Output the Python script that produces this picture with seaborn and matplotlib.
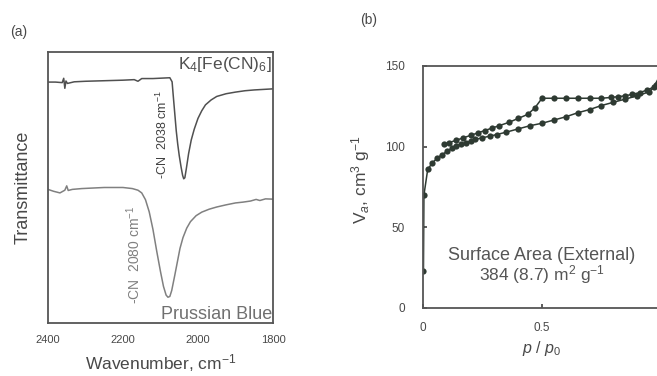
import matplotlib
matplotlib.use("Agg")
import matplotlib.pyplot as plt
import seaborn as sns
import pandas as pd

# --- data ---
# (a) IR spectra, wavenumber (cm-1) vs transmittance (arb.)
k4_wn = [2400, 2380, 2362, 2358, 2355, 2352, 2348, 2330, 2300, 2250, 2200, 2170, 2160, 2150,
         2120, 2090, 2075, 2069, 2066, 2062, 2058, 2054, 2050, 2045, 2041, 2038, 2035, 2031,
         2025, 2018, 2010, 2000, 1990, 1980, 1965, 1950, 1925, 1900, 1875, 1850, 1825, 1800]
k4_T = [88.9, 88.9, 88.7, 90.3, 86.6, 89.3, 88.4, 89.0, 89.2, 89.4, 89.6, 89.8, 89.2, 90.2,
        90.2, 90.4, 90.5, 89.0, 84.0, 77.5, 71.0, 66.0, 61.8, 57.5, 54.5, 53.2, 53.6, 57.0,
        62.5, 67.5, 71.5, 75.5, 78.3, 80.5, 82.3, 83.6, 84.6, 85.2, 85.7, 86.0, 86.2, 86.4]

pb_wn = [2400, 2385, 2368, 2355, 2350, 2346, 2335, 2310, 2280, 2250, 2200, 2175, 2160, 2150,
         2140, 2130, 2120, 2110, 2100, 2092, 2085, 2080, 2075, 2070, 2062, 2055, 2048, 2040,
         2030, 2020, 2005, 1990, 1970, 1950, 1925, 1900, 1880, 1860, 1845, 1835, 1820, 1800]
pb_T = [49.3, 48.6, 48.0, 49.0, 50.6, 48.9, 49.3, 49.6, 49.8, 50.0, 50.0, 49.6, 49.0, 48.0,
        45.5, 41.0, 34.5, 26.5, 19.0, 13.5, 10.3, 9.5, 9.8, 12.0, 17.5, 22.5, 27.5, 31.5,
        35.0, 37.4, 39.6, 40.9, 42.0, 42.8, 43.6, 44.3, 44.6, 45.0, 45.6, 45.2, 45.8, 45.7]

# (b) N2 isotherm, relative pressure vs adsorbed volume
ads_p = [0.002, 0.004, 0.02, 0.04, 0.06, 0.08, 0.10, 0.12, 0.14, 0.16, 0.18, 0.20, 0.22,
         0.25, 0.28, 0.31, 0.35, 0.40, 0.45, 0.50, 0.55, 0.60, 0.65, 0.70, 0.75, 0.80,
         0.85, 0.90, 0.95, 0.98, 0.995]
ads_v = [23, 70, 86, 90, 93, 95, 97, 99, 100.5, 101.5, 102.5, 103.5, 104.5,
         105.5, 106.5, 107.5, 109, 111, 113, 114.5, 116.5, 118.5, 121, 123, 125.5, 127.5,
         129.5, 131.5, 134, 138, 144]
des_p = [0.995, 0.97, 0.94, 0.91, 0.88, 0.85, 0.82, 0.79, 0.75, 0.70, 0.65, 0.60, 0.55,
         0.50, 0.47, 0.44, 0.40, 0.36, 0.32, 0.29, 0.26, 0.23, 0.20, 0.17, 0.14, 0.11, 0.09]
des_v = [144, 137, 135, 133.5, 132.5, 131.5, 131, 130.5, 130, 130, 130, 130, 130,
         130, 124, 120, 117.5, 115, 113, 111.5, 110, 108.5, 107, 105.5, 104, 102.5, 101.5]

sns.set_theme(style="white")
plt.rcParams['font.family'] = ['Liberation Sans', 'DejaVu Sans']
plt.rcParams['mathtext.fontset'] = 'custom'
plt.rcParams['mathtext.rm'] = 'Liberation Sans'
plt.rcParams['mathtext.it'] = 'Liberation Sans:italic'

txt = '#484848'
spine = '#555555'

fig = plt.figure(figsize=(6.57, 3.76), dpi=100)

# --- (a) IR spectra ---
ax1 = fig.add_axes([0.073, 0.141, 0.3425, 0.7207])
sns.lineplot(x=k4_wn, y=k4_T, ax=ax1, color='#505050', lw=1.1, sort=False)
sns.lineplot(x=pb_wn, y=pb_T, ax=ax1, color='#808080', lw=1.1, sort=False)
ax1.set_xlim(2400, 1800)
ax1.set_ylim(0, 100)
ax1.set_xticks([2400, 2200, 2000, 1800])
ax1.set_yticks([])
ax1.tick_params(axis='x', labelsize=8, colors=txt, pad=9, length=0)
ax1.set_xlabel('Wavenumber, cm$^{-1}$', fontsize=12.5, color=txt, labelpad=5)
ax1.set_ylabel('Transmittance', fontsize=13, color=txt, labelpad=12)
for s in ax1.spines.values():
    s.set_color(spine)
    s.set_linewidth(1.3)
ax1.text(0.995, 0.99, 'K$_4$[Fe(CN)$_6$]', transform=ax1.transAxes, ha='right', va='top',
         fontsize=12.5, color='#505050')
ax1.text(0.995, 0.0, 'Prussian Blue', transform=ax1.transAxes, ha='right', va='bottom',
         fontsize=13, color='#707070')
ax1.text(2095, 53, '-CN  2038 cm$^{-1}$', rotation=90, ha='center', va='bottom',
         fontsize=9, color='#404040')
ax1.text(2172, 7, '-CN  2080 cm$^{-1}$', rotation=90, ha='center', va='bottom',
         fontsize=10, color='#808080')
fig.text(0.015, 0.905, '(a)', fontsize=10, color=txt)

# --- (b) isotherm ---
ax2 = fig.add_axes([0.6438, 0.1809, 0.3623, 0.6436])
iso_col = '#2e3a32'
sns.lineplot(x=ads_p, y=ads_v, ax=ax2, color=iso_col, lw=1.1, sort=False,
             marker='o', markersize=4.5, markeredgewidth=0)
sns.lineplot(x=des_p, y=des_v, ax=ax2, color=iso_col, lw=1.1, sort=False,
             marker='o', markersize=4.5, markeredgewidth=0)
ax2.set_xlim(0, 1)
ax2.set_ylim(0, 150)
ax2.set_xticks([0, 0.5])
ax2.set_xticklabels(['0', '0.5'])
ax2.set_yticks([0, 50, 100, 150])
ax2.tick_params(labelsize=8.5, colors=txt, direction='in', length=3,
                left=True, bottom=True)
ax2.tick_params(axis='y', pad=13)
ax2.tick_params(axis='x', pad=10)
ax2.set_xlabel('$p$ / $p_0$', fontsize=11.5, color=txt, labelpad=4)
ax2.set_ylabel('V$_a$, cm$^3$ g$^{-1}$', fontsize=12.5, color=txt)
ax2.yaxis.set_label_coords(-0.215, 0.53)
for s in ax2.spines.values():
    s.set_color(spine)
    s.set_linewidth(1.3)
ax2.text(0.5, 0.215, 'Surface Area (External)', transform=ax2.transAxes, ha='center',
         va='center', fontsize=13, color='#555555')
ax2.text(0.5, 0.14, '384 (8.7) m$^2$ g$^{-1}$', transform=ax2.transAxes, ha='center',
         va='center', fontsize=12.5, color='#555555')
fig.text(0.548, 0.935, '(b)', fontsize=10, color=txt)

fig.savefig('out.png', dpi=100)
